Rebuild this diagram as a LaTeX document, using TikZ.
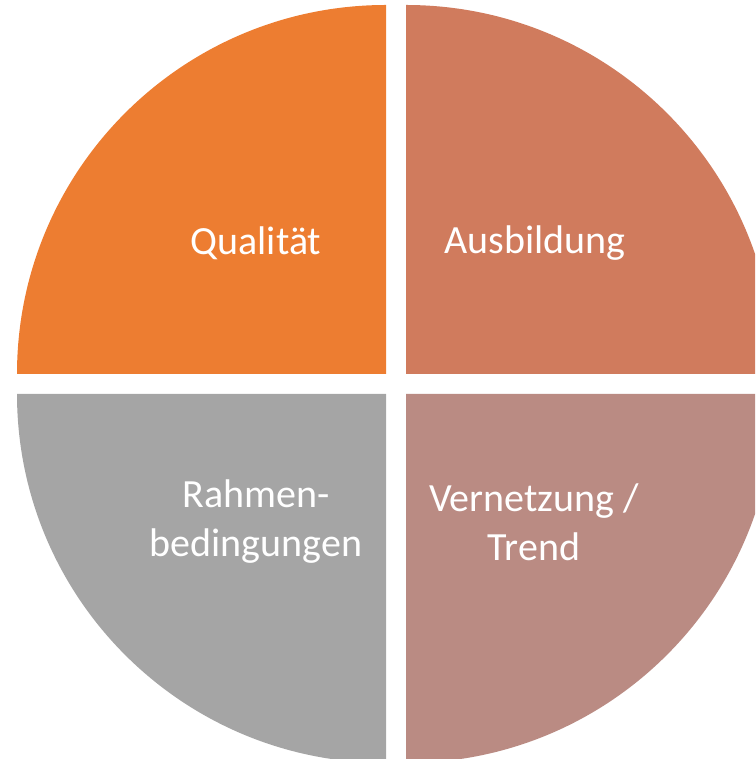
\documentclass[tikz,border=0pt]{standalone}
\usepackage{fontspec}
\setmainfont{Carlito}
\definecolor{qorange}{RGB}{237,125,49}
\definecolor{qcopper}{RGB}{208,123,93}
\definecolor{qrose}{RGB}{186,139,131}
\definecolor{qgray}{RGB}{165,165,165}
\begin{document}
\begin{tikzpicture}[x=1pt,y=1pt,
  label/.style={text=white, align=center, font=\fontsize{40}{49}\selectfont}]
\useasboundingbox (0,0) rectangle (755,759);
\clip (0,0) rectangle (755,759);
% four quarters, pulled apart
\fill[qorange] (386,385) -- ++(-369,0) arc[start angle=180, end angle=90, radius=369pt] -- cycle;
\fill[qcopper] (406,385) -- ++(0,369) arc[start angle=90, end angle=0, radius=369pt] -- cycle;
\fill[qgray] (386,365) -- ++(0,-369) arc[start angle=270, end angle=180, radius=369pt] -- cycle;
\fill[qrose] (406,365) -- ++(369,0) arc[start angle=0, end angle=-90, radius=369pt] -- cycle;
% labels
\node[label] (quali) at (256,516) {Qualität};
\node[label] (ausb) at (535,516) {Ausbildung};
\node[label] (rahmen) at (256,237) {Rahmen-\\bedingungen};
\node[label] (vernetz) at (534,237) {Vernetzung /\\Trend};
\end{tikzpicture}
\end{document}
